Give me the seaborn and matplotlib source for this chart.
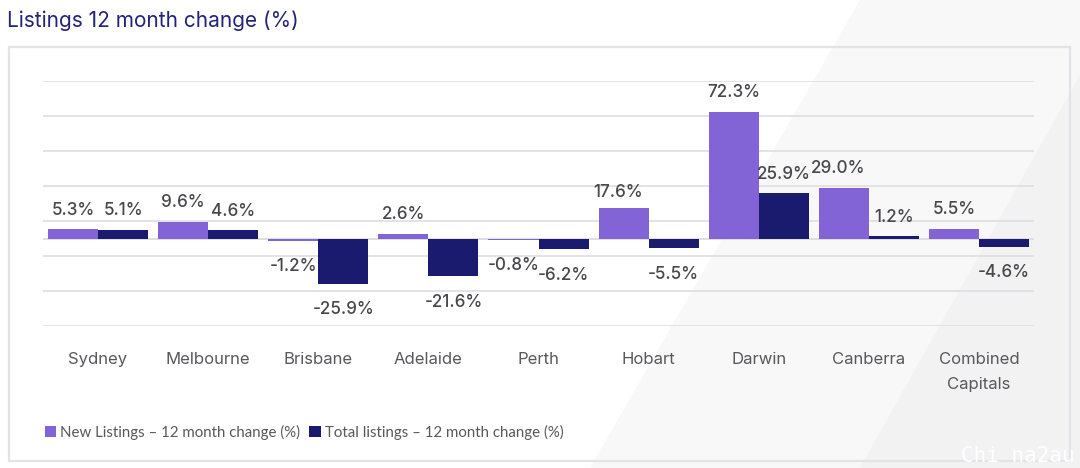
import pandas as pd
import matplotlib.pyplot as plt
import seaborn as sns
from matplotlib.patches import Polygon, Rectangle

CITIES = ['Sydney', 'Melbourne', 'Brisbane', 'Adelaide', 'Perth', 'Hobart', 'Darwin', 'Canberra', 'Combined\nCapitals']
NEW_LISTINGS = [5.3, 9.6, -1.2, 2.6, -0.8, 17.6, 72.3, 29.0, 5.5]
TOTAL_LISTINGS = [5.1, 4.6, -25.9, -21.6, -6.2, -5.5, 25.9, 1.2, -4.6]
NEW_NAME = 'New Listings – 12 month change (%)'
TOTAL_NAME = 'Total listings – 12 month change (%)'
Y_GRID = [-50, -30, -10, 10, 30, 50, 70, 90]

W, H = 1080, 468
sns.set_theme(style='white')
plt.rcParams['font.family'] = ['Inter', 'DejaVu Sans']


def px(x, y):
    # Pixelposition im Bild -> figure coords
    return x / W, 1 - y / H


df = pd.DataFrame({'city': CITIES, NEW_NAME: NEW_LISTINGS, TOTAL_NAME: TOTAL_LISTINGS})
df = df.melt(id_vars='city', var_name='series', value_name='change')

fig = plt.figure(figsize=(W / 100, H / 100), dpi=100, facecolor='white')

# Hintergrund: helle diagonale Flaechen
for pts, col in [
    ([(860, 0), (1080, 0), (1080, 468), (590, 468)], '#f8f8f8'),
    ([(1080, 75), (1080, 468), (860, 468)], '#f2f2f2'),
]:
    fig.add_artist(Polygon([px(*p) for p in pts], closed=True, transform=fig.transFigure,
                           facecolor=col, edgecolor='none', zorder=-3))
fig.add_artist(Rectangle(px(8.5, 460.5), 1061 / W, 414 / H, transform=fig.transFigure,
                         facecolor='none', edgecolor='#e2e2e8', linewidth=1.6, zorder=-1))

ax = fig.add_axes([43 / W, 1 - 326 / H, 991 / W, 245 / H])
ax.patch.set_alpha(0)
sns.barplot(data=df, x='city', y='change', hue='series', palette=['#8364d6', '#1a1a6e'],
            width=0.91, saturation=1, errorbar=None, linewidth=0, ax=ax, zorder=3)

ax.set_xlim(-0.5, len(CITIES) - 0.5)
ax.set_ylim(-50, 90)
ax.set_yticks(Y_GRID)
ax.set_yticklabels([])
ax.grid(axis='y', color='#e0e0e4', linewidth=1.3)
ax.axhline(0, color='#dcdce0', linewidth=1.3, zorder=2)
ax.set_axisbelow(True)
ax.set_xlabel('')
ax.set_ylabel('')
sns.despine(ax=ax, left=True, bottom=True)
ax.tick_params(axis='x', length=0, pad=18.5, labelsize=12, labelcolor='#58585c')
ax.tick_params(axis='y', length=0)
for tick in ax.get_xticklabels():
    tick.set_linespacing(1.85)

# Werte an die Balken schreiben, zwei Labels sind im Original verschoben
nudge = {17.6: (-5, -4), 29.0: (-6, 0)}
for container in ax.containers:
    for bar in container:
        val = bar.get_height() + bar.get_y() if bar.get_y() >= 0 else bar.get_y()
        val = round(val, 1)
        dx, dy = nudge.get(val, (0, 0))
        off = 19 if val > 0 else -26
        ax.annotate(f'{val:.1f}%', (bar.get_x() + bar.get_width() / 2, val),
                    xytext=(dx * 0.72, (off + dy) * 0.72), textcoords='offset points',
                    ha='center', va='center', fontsize=12.3, fontweight='medium',
                    color='#48484c', zorder=5)

handles, labels = ax.get_legend_handles_labels()
ax.legend(handles, labels, loc='center left', bbox_to_anchor=px(31, 432),
          bbox_transform=fig.transFigure, frameon=False, ncol=2,
          labelcolor='#58585c', handlelength=0.75, handleheight=0.75,
          handletextpad=0.3, columnspacing=0.6, prop={'family': 'Lato', 'size': 10.8})

fig.text(*px(7, 21), 'Listings 12 month change (%)', fontsize=15, color='#23237a', va='center')
fig.text(*px(1075, 456), 'Chi na2au', fontsize=15, color='white', va='center', ha='right',
         family='DejaVu Sans Mono')

fig.savefig('out.png', dpi=100)
